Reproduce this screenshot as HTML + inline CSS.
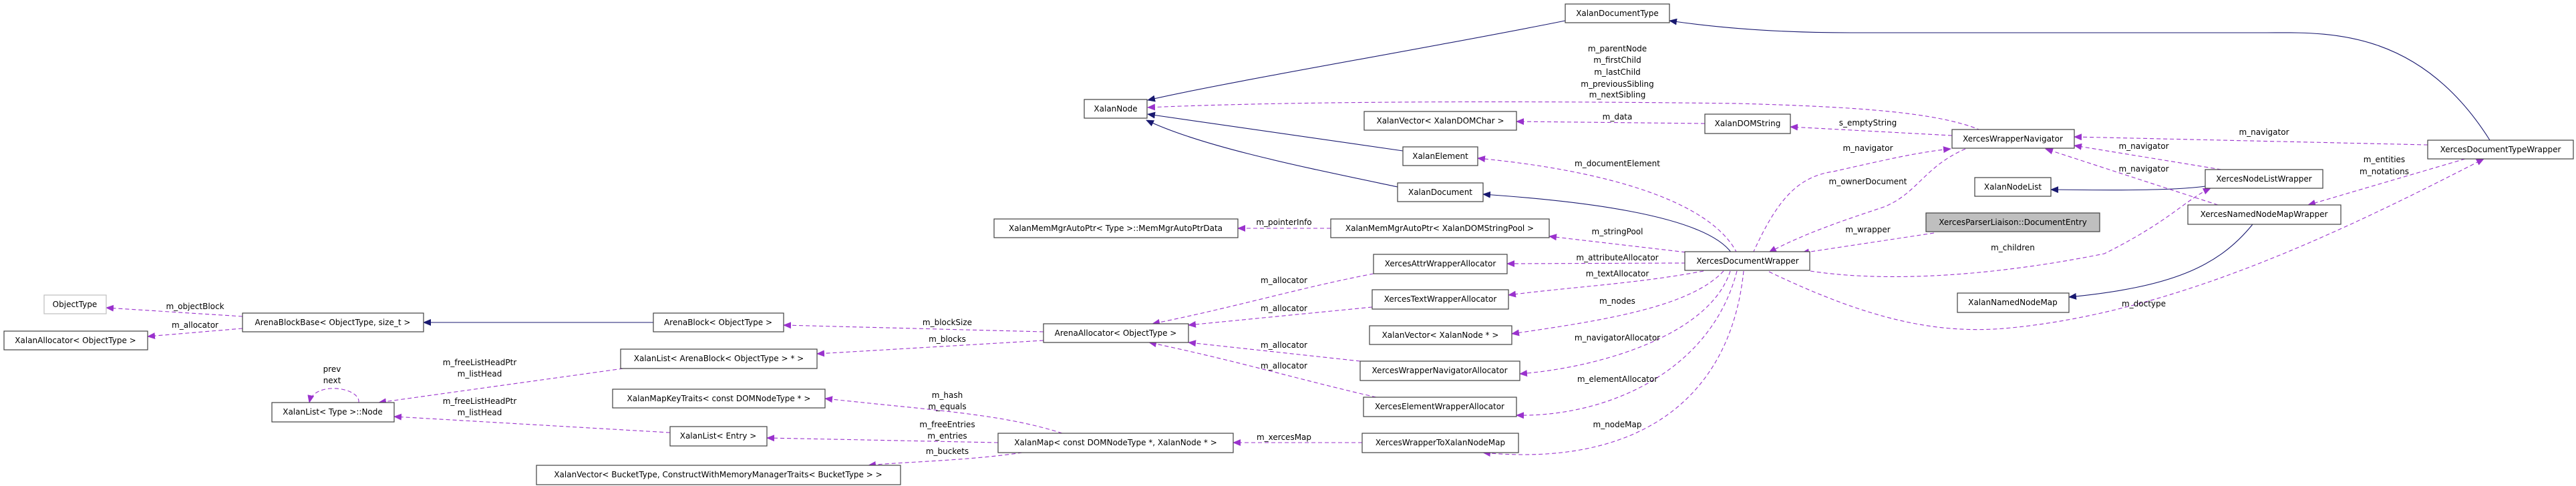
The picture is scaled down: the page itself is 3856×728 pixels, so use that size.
<!DOCTYPE html>
<html><head><meta charset="utf-8"><style>
html,body{margin:0;padding:0;background:#fff}
svg{display:block}
text{font-family:"DejaVu Sans","Liberation Sans",sans-serif;font-size:12px;fill:#000}
.b{fill:#fff;stroke:#404040;stroke-width:1.2}
.s{fill:none;stroke:#191970;stroke-width:1.1}
.d{fill:none;stroke:#9a32cd;stroke-width:1.1;stroke-dasharray:6,4}
</style></head><body>
<svg width="3856" height="728" viewBox="0 0 3856 728" xmlns="http://www.w3.org/2000/svg">
<defs>
<marker id="an" markerWidth="12" markerHeight="10" refX="11" refY="5" orient="auto" markerUnits="userSpaceOnUse"><path d="M0,0 L12,5 L0,10 z" fill="#191970"/></marker>
<marker id="ap" markerWidth="12" markerHeight="10" refX="11" refY="5" orient="auto" markerUnits="userSpaceOnUse"><path d="M0,0 L12,5 L0,10 z" fill="#9a32cd"/></marker>
</defs>
<g class="s" marker-end="url(#an)">
<path d="M2343,31 C2150,70 1850,120 1718,150"/>
<path d="M2100,226 L1718,171"/>
<path d="M2092,280 C1950,250 1800,220 1716,180"/>
<path d="M2592,379 C2550,320 2350,300 2220,291"/>
<path d="M3727,210 C3620,40 3480,49 3393,49 L2770,49 C2650,49 2560,40 2499,31"/>
<path d="M978,483 L634,483"/>
<path d="M3301,279 C3250,286 3150,285 3070,284"/>
<path d="M3372,336 C3320,400 3250,430 3097,445"/>
</g>
<g class="d" marker-end="url(#ap)">
<path d="M363,474 L159,461"/>
<path d="M363,492 L221,504"/>
<path d="M933,552 L567,603"/>
<path d="M1003,648 L590,624"/>
<path d="M537,603 C540,580 470,570 463,603"/>
<path d="M1562,497 L1173,487"/>
<path d="M1562,510 L1223,530"/>
<path d="M1590,649 C1500,620 1400,615 1235,597"/>
<path d="M1494,663 L1148,656"/>
<path d="M1530,678 C1450,690 1350,692 1300,697"/>
<path d="M2039,663 L1846,663"/>
<path d="M1992,342 L1853,342"/>
<path d="M2056,410 C1950,430 1850,460 1725,485"/>
<path d="M2054,460 L1779,487"/>
<path d="M2036,541 L1779,513"/>
<path d="M2060,595 C1950,570 1850,540 1720,513"/>
<path d="M2552,185 L2270,182"/>
<path d="M2965,195 C2900,168 2780,160 2600,155 C2200,150 1900,153 1718,161"/>
<path d="M2922,203 L2680,190"/>
<path d="M2600,379 C2560,300 2400,255 2212,237"/>
<path d="M2533,379 L2319,354"/>
<path d="M2523,394 L2256,395"/>
<path d="M2550,406 C2450,425 2350,430 2258,442"/>
<path d="M2580,406 C2530,460 2400,480 2263,500"/>
<path d="M2590,406 C2560,500 2400,550 2275,560"/>
<path d="M2600,406 C2560,560 2400,625 2270,622"/>
<path d="M2610,406 C2590,600 2450,700 2220,678"/>
<path d="M2624,379 C2660,300 2690,265 2744,257 C2820,240 2870,228 2920,223"/>
<path d="M2942,223 C2880,250 2870,290 2820,310 C2760,330 2700,350 2648,378"/>
<path d="M2895,349 L2697,379"/>
<path d="M2710,406 C2800,420 2950,420 3150,380 C3250,330 3270,300 3309,282"/>
<path d="M2648,407 C2800,480 2900,500 3000,492 C3250,470 3500,350 3718,238"/>
<path d="M3634,217 L3105,205"/>
<path d="M3325,254 L3105,218"/>
<path d="M3320,307 L3062,223"/>
<path d="M3690,238 L3455,307"/>
</g>
<g>
<rect x="66" y="442" width="93" height="28" fill="#fff" stroke="#bfbfbf" stroke-width="1.2"/><text x="112" y="460" text-anchor="middle">ObjectType</text>
<rect class="b" x="6" y="496" width="215" height="28"/><text x="113" y="514" text-anchor="middle">XalanAllocator&lt; ObjectType &gt;</text>
<rect class="b" x="363" y="469" width="271" height="28"/><text x="498" y="487" text-anchor="middle">ArenaBlockBase&lt; ObjectType, size_t &gt;</text>
<rect class="b" x="978" y="469" width="195" height="28"/><text x="1075" y="487" text-anchor="middle">ArenaBlock&lt; ObjectType &gt;</text>
<rect class="b" x="929" y="523" width="294" height="29"/><text x="1076" y="541" text-anchor="middle">XalanList&lt; ArenaBlock&lt; ObjectType &gt; * &gt;</text>
<rect class="b" x="407" y="603" width="183" height="29"/><text x="498" y="621" text-anchor="middle">XalanList&lt; Type &gt;::Node</text>
<rect class="b" x="917" y="583" width="318" height="28"/><text x="1076" y="601" text-anchor="middle">XalanMapKeyTraits&lt; const DOMNodeType * &gt;</text>
<rect class="b" x="1003" y="639" width="145" height="29"/><text x="1075" y="657" text-anchor="middle">XalanList&lt; Entry &gt;</text>
<rect class="b" x="803" y="697" width="545" height="29"/><text x="1075" y="715" text-anchor="middle">XalanVector&lt; BucketType, ConstructWithMemoryManagerTraits&lt; BucketType &gt; &gt;</text>
<rect class="b" x="2343" y="6" width="156" height="28"/><text x="2421" y="24" text-anchor="middle">XalanDocumentType</text>
<rect class="b" x="1623" y="149" width="94" height="28"/><text x="1670" y="167" text-anchor="middle">XalanNode</text>
<rect class="b" x="2042" y="167" width="228" height="28"/><text x="2156" y="185" text-anchor="middle">XalanVector&lt; XalanDOMChar &gt;</text>
<rect class="b" x="2552" y="171" width="128" height="29"/><text x="2616" y="189" text-anchor="middle">XalanDOMString</text>
<rect class="b" x="2100" y="220" width="112" height="28"/><text x="2156" y="238" text-anchor="middle">XalanElement</text>
<rect class="b" x="2092" y="274" width="128" height="28"/><text x="2156" y="292" text-anchor="middle">XalanDocument</text>
<rect class="b" x="1488" y="328" width="365" height="28"/><text x="1670" y="346" text-anchor="middle">XalanMemMgrAutoPtr&lt; Type &gt;::MemMgrAutoPtrData</text>
<rect class="b" x="1992" y="328" width="327" height="28"/><text x="2155" y="346" text-anchor="middle">XalanMemMgrAutoPtr&lt; XalanDOMStringPool &gt;</text>
<rect class="b" x="2056" y="381" width="200" height="29"/><text x="2156" y="399" text-anchor="middle">XercesAttrWrapperAllocator</text>
<rect class="b" x="2054" y="434" width="204" height="29"/><text x="2156" y="452" text-anchor="middle">XercesTextWrapperAllocator</text>
<rect class="b" x="1562" y="485" width="217" height="28"/><text x="1670" y="503" text-anchor="middle">ArenaAllocator&lt; ObjectType &gt;</text>
<rect class="b" x="2050" y="488" width="213" height="28"/><text x="2156" y="506" text-anchor="middle">XalanVector&lt; XalanNode * &gt;</text>
<rect class="b" x="2036" y="541" width="239" height="29"/><text x="2155" y="559" text-anchor="middle">XercesWrapperNavigatorAllocator</text>
<rect class="b" x="2041" y="595" width="229" height="29"/><text x="2155" y="613" text-anchor="middle">XercesElementWrapperAllocator</text>
<rect class="b" x="1494" y="649" width="352" height="29"/><text x="1670" y="667" text-anchor="middle">XalanMap&lt; const DOMNodeType *, XalanNode * &gt;</text>
<rect class="b" x="2039" y="649" width="234" height="29"/><text x="2156" y="667" text-anchor="middle">XercesWrapperToXalanNodeMap</text>
<rect class="b" x="2522" y="377" width="187" height="28"/><text x="2616" y="395" text-anchor="middle">XercesDocumentWrapper</text>
<rect class="b" x="2922" y="194" width="183" height="28"/><text x="3013" y="212" text-anchor="middle">XercesWrapperNavigator</text>
<rect class="b" x="3634" y="210" width="218" height="28"/><text x="3743" y="228" text-anchor="middle">XercesDocumentTypeWrapper</text>
<rect class="b" x="2956" y="266" width="114" height="28"/><text x="3013" y="284" text-anchor="middle">XalanNodeList</text>
<rect class="b" x="3301" y="254" width="176" height="28"/><text x="3389" y="272" text-anchor="middle">XercesNodeListWrapper</text>
<rect class="b" x="3275" y="307" width="229" height="29"/><text x="3389" y="325" text-anchor="middle">XercesNamedNodeMapWrapper</text>
<rect x="2883" y="319" width="260" height="28" fill="#bfbfbf" stroke="#404040" stroke-width="1.2"/><text x="3013" y="337" text-anchor="middle">XercesParserLiaison::DocumentEntry</text>
<rect class="b" x="2930" y="439" width="167" height="29"/><text x="3013" y="457" text-anchor="middle">XalanNamedNodeMap</text>
</g>
<g text-anchor="middle">
<text x="292" y="463">m_objectBlock</text>
<text x="292" y="491">m_allocator</text>
<text x="497" y="557">prev</text>
<text x="497" y="574">next</text>
<text x="718" y="547">m_freeListHeadPtr</text>
<text x="718" y="564">m_listHead</text>
<text x="718" y="605">m_freeListHeadPtr</text>
<text x="718" y="622">m_listHead</text>
<text x="2421" y="77">m_parentNode</text>
<text x="2421" y="94">m_firstChild</text>
<text x="2421" y="112">m_lastChild</text>
<text x="2421" y="130">m_previousSibling</text>
<text x="2421" y="146">m_nextSibling</text>
<text x="2421" y="179">m_data</text>
<text x="2421" y="249">m_documentElement</text>
<text x="1922" y="337">m_pointerInfo</text>
<text x="2421" y="351">m_stringPool</text>
<text x="2421" y="390">m_attributeAllocator</text>
<text x="2421" y="414">m_textAllocator</text>
<text x="2421" y="455">m_nodes</text>
<text x="2421" y="510">m_navigatorAllocator</text>
<text x="2421" y="572">m_elementAllocator</text>
<text x="2421" y="640">m_nodeMap</text>
<text x="1922" y="424">m_allocator</text>
<text x="1922" y="466">m_allocator</text>
<text x="1922" y="521">m_allocator</text>
<text x="1922" y="552">m_allocator</text>
<text x="1418" y="487">m_blockSize</text>
<text x="1418" y="512">m_blocks</text>
<text x="1418" y="596">m_hash</text>
<text x="1418" y="613">m_equals</text>
<text x="1418" y="640">m_freeEntries</text>
<text x="1418" y="657">m_entries</text>
<text x="1418" y="680">m_buckets</text>
<text x="1922" y="659">m_xercesMap</text>
<text x="2796" y="188">s_emptyString</text>
<text x="2796" y="226">m_navigator</text>
<text x="2796" y="276">m_ownerDocument</text>
<text x="2796" y="348">m_wrapper</text>
<text x="3013" y="375">m_children</text>
<text x="3389" y="202">m_navigator</text>
<text x="3209" y="223">m_navigator</text>
<text x="3209" y="257">m_navigator</text>
<text x="3569" y="243">m_entities</text>
<text x="3569" y="261">m_notations</text>
<text x="3209" y="459">m_doctype</text>
</g>
</svg>
</body></html>
